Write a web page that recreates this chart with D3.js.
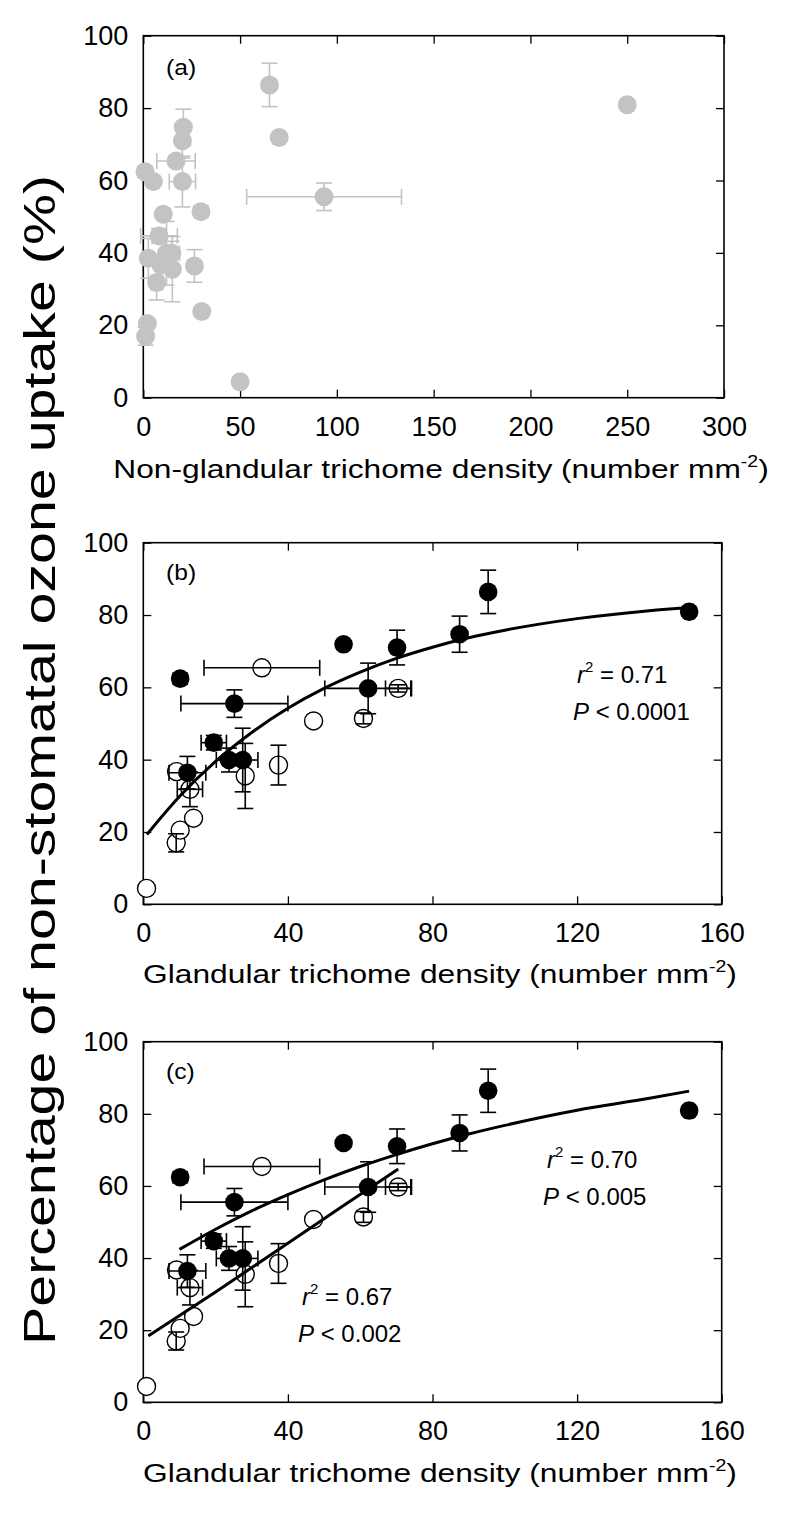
<!DOCTYPE html>
<html>
<head>
<meta charset="utf-8">
<script src="https://cdn.jsdelivr.net/npm/d3@7"></script>
<style>
  body { margin: 0; background: #fff; }
  svg { display: block; font-family: "Liberation Sans", Arial, sans-serif; }
</style>
</head>
<body>
<svg width="800" height="1518"></svg>
<script>
'use strict'

// tick values
const yTicks = [0, 20, 40, 60, 80, 100];
const xTicksA = [0, 50, 100, 150, 200, 250, 300];
const xTicksBC = [0, 40, 80, 120, 160];

// filled circles (glandular density, uptake %)
const filledGlandX = [10.2, 25.2, 19.5, 23.7, 27.5, 12.2, 55.4, 70.2, 62.2, 87.5, 95.4, 151];
const filledY      = [62.4, 55.5, 44.7, 39.9, 39.9, 36.4, 71.9, 71.0, 59.7, 74.7, 86.4, 80.9];
const filledGlandXErr = [1.0, 14.8, 3.5, 3.5, 4.2, 5.1, 0, 0, 12, 0, 0, 1.2];
const filledYErr      = [1.5, 3.8, 2.0, 3.3, 8.8, 4.5, 0, 4.8, 7.0, 5.0, 6.0, 1.2];
// same samples against non-glandular density
const filledNonGlandX    = [0.9, 93.4, 8.1, 14.7, 12.0, 26.4, 70.2, 20.2, 20.2, 20.7, 65.2, 250];
const filledNonGlandXErr = [0, 40, 9.5, 4.0, 0, 0, 0, 0, 6.8, 0, 0, 0];

// open circles
const openGlandX = [0.9, 9.1, 10.2, 13.9, 12.9, 9.2, 28.2, 37.4, 47.1, 60.9, 70.5, 32.8];
const openY      = [4.4, 17.0, 20.5, 23.8, 31.8, 36.7, 35.5, 38.5, 50.7, 51.4, 59.7, 65.4];
const openGlandXErr = [0, 0, 0, 0, 3.5, 0, 0, 0, 0, 0, 3.5, 16];
const openYErr      = [0, 2.5, 0, 0, 4.8, 0, 9.0, 5.5, 0, 1.5, 1.0, 0];
const openNonGlandX    = [50, 1.2, 2.1, 30.2, 6.9, 9.0, 15.0, 2.6, 10.3, 29.8, 5.2, 16.9];
const openNonGlandXErr = [0, 0, 0, 0, 3.0, 0, 0, 0, 0, 0, 0, 9.9];

// fitted curves
const curveBX = [1, 10, 20, 30, 40, 50, 60, 70, 80, 90, 100, 120, 140, 151];
const curveBY = [19.3, 29.8, 39.5, 47.5, 54.2, 59.7, 64.2, 68.0, 71.1, 73.7, 75.8, 79.0, 81.2, 82.1];
const curveC1X = [10, 20, 30, 40, 50, 60, 70, 80, 90, 100, 120, 140, 151];
const curveC1Y = [42.4, 48.0, 53.1, 57.6, 61.7, 65.4, 68.7, 71.7, 74.4, 76.8, 81.0, 84.3, 86.3];
const curveC2X = [1.4, 20, 40.6, 55, 70.5];
const curveC2Y = [18.4, 30.6, 44.5, 54.3, 64.7];

const svg = d3.select('svg');
const LEFT = 143.3;
const TICK = 8;
const CAP = 8;
const GREY = '#c3c3c3';

const filled = filledY.map((v, i) => ({
  gx: filledGlandX[i], ngx: filledNonGlandX[i], y: v,
  gex: filledGlandXErr[i], ngex: filledNonGlandXErr[i], ey: filledYErr[i]
}));
const open = openY.map((v, i) => ({
  gx: openGlandX[i], ngx: openNonGlandX[i], y: v,
  gex: openGlandXErr[i], ngex: openNonGlandXErr[i], ey: openYErr[i]
}));

function frame(x, y, xTicks) {
  const g = svg.append('g');
  const [x0, x1] = x.range();
  const [y0, y1] = y.range();
  const fmt = d3.format('d');

  g.append('g').attr('transform', `translate(0,${y0})`)
    .call(d3.axisBottom(x).tickValues(xTicks).tickSizeInner(-TICK).tickSizeOuter(0).tickPadding(19).tickFormat(fmt));
  g.append('g').attr('transform', `translate(0,${y1})`)
    .call(d3.axisTop(x).tickValues(xTicks).tickSizeInner(-TICK).tickSizeOuter(0).tickFormat(''));
  g.append('g').attr('transform', `translate(${x0},0)`)
    .call(d3.axisLeft(y).tickValues(yTicks).tickSizeInner(-TICK).tickSizeOuter(0).tickPadding(15).tickFormat(fmt));
  g.append('g').attr('transform', `translate(${x1},0)`)
    .call(d3.axisRight(y).tickValues(yTicks).tickSizeInner(-TICK).tickSizeOuter(0).tickFormat(''));

  g.selectAll('.domain').remove();
  g.selectAll('.tick line').attr('stroke', '#000').attr('stroke-width', 1.3);
  g.selectAll('.tick text').attr('font-size', 27).attr('fill', '#000')
    .attr('font-family', '"Liberation Sans", Arial, sans-serif');

  g.append('rect')
    .attr('x', x0).attr('y', y1).attr('width', x1 - x0).attr('height', y0 - y1)
    .attr('fill', 'none').attr('stroke', '#000').attr('stroke-width', 1.6);
  return g;
}

function errorBars(g, pts, x, y, xKey, exKey, color) {
  const eg = g.append('g').attr('stroke', color).attr('stroke-width', 1.6).attr('fill', 'none');
  pts.forEach(p => {
    const cx = x(p[xKey]), cy = y(p.y);
    if (p.ey > 0) {
      const ya = y(p.y + p.ey), yb = y(p.y - p.ey);
      eg.append('line').attr('x1', cx).attr('x2', cx).attr('y1', ya).attr('y2', yb);
      eg.append('line').attr('x1', cx - CAP).attr('x2', cx + CAP).attr('y1', ya).attr('y2', ya);
      eg.append('line').attr('x1', cx - CAP).attr('x2', cx + CAP).attr('y1', yb).attr('y2', yb);
    }
    if (p[exKey] > 0) {
      const xa = x(p[xKey] - p[exKey]), xb = x(p[xKey] + p[exKey]);
      eg.append('line').attr('x1', xa).attr('x2', xb).attr('y1', cy).attr('y2', cy);
      eg.append('line').attr('x1', xa).attr('x2', xa).attr('y1', cy - CAP).attr('y2', cy + CAP);
      eg.append('line').attr('x1', xb).attr('x2', xb).attr('y1', cy - CAP).attr('y2', cy + CAP);
    }
  });
}

function xTitle(text, cx, baseline, sx) {
  const t = svg.append('text')
    .attr('transform', `translate(${cx},${baseline}) scale(${sx},1)`)
    .attr('text-anchor', 'middle').attr('font-size', 26).attr('fill', '#000');
  t.append('tspan').text(text + ' (number mm');
  t.append('tspan').attr('font-size', 16).attr('dy', -11).text('-2');
  t.append('tspan').attr('dy', 11).text(')');
}

function panelLabel(label, x, baseline) {
  svg.append('text')
    .attr('transform', `translate(${x},${baseline}) scale(1.12,1)`)
    .attr('font-size', 22).attr('fill', '#000').text(label);
}

function stats(x, baseline, r2, p) {
  const t = svg.append('text')
    .attr('transform', `translate(${x},${baseline})`)
    .attr('font-size', 24).attr('fill', '#000');
  t.append('tspan').attr('font-style', 'italic').text('r');
  t.append('tspan').attr('font-size', 15).attr('dy', -11).text('2');
  t.append('tspan').attr('dy', 11).text(' = ' + r2);
  const t2 = svg.append('text')
    .attr('transform', `translate(${x - 4},${baseline + 37})`)
    .attr('font-size', 24).attr('fill', '#000');
  t2.append('tspan').attr('font-style', 'italic').text('P');
  t2.append('tspan').text(' < ' + p);
}

function curve(g, xs, ys, x, y) {
  const pts = xs.map((v, i) => [v, ys[i]]);
  g.append('path').datum(pts)
    .attr('fill', 'none').attr('stroke', '#000').attr('stroke-width', 3)
    .attr('d', d3.line().x(d => x(d[0])).y(d => y(d[1])).curve(d3.curveMonotoneX));
}

function dots(g, pts, x, y, xKey, fill, stroke, r) {
  g.append('g').selectAll('circle').data(pts).join('circle')
    .attr('cx', d => x(d[xKey])).attr('cy', d => y(d.y)).attr('r', r)
    .attr('fill', fill).attr('stroke', stroke).attr('stroke-width', stroke === 'none' ? 0 : 1.4);
}

// ---- panel (a)
{
  const x = d3.scaleLinear().domain([0, 300]).range([LEFT, 724]);
  const y = d3.scaleLinear().domain([0, 100]).range([397.7, 35.7]);
  const g = frame(x, y, xTicksA);
  const all = open.concat(filled);
  errorBars(g, all, x, y, 'ngx', 'ngex', GREY);
  dots(g, all, x, y, 'ngx', GREY, 'none', 9.5);
  panelLabel('(a)', 166, 75);
  xTitle('Non-glandular trichome density', 441, 478, 1.22);
}

// ---- panel (b)
{
  const x = d3.scaleLinear().domain([0, 160]).range([LEFT, 721.7]);
  const y = d3.scaleLinear().domain([0, 100]).range([904.3, 542.7]);
  const g = frame(x, y, xTicksBC);
  dots(g, open, x, y, 'gx', '#fff', '#000', 9);
  errorBars(g, open.concat(filled), x, y, 'gx', 'gex', '#000');
  curve(g, curveBX, curveBY, x, y);
  dots(g, filled, x, y, 'gx', '#000', 'none', 9.3);
  panelLabel('(b)', 166, 580);
  stats(577, 683, '0.71', '0.0001');
  xTitle('Glandular trichome density', 440, 983, 1.22);
}

// ---- panel (c)
{
  const x = d3.scaleLinear().domain([0, 160]).range([LEFT, 721.7]);
  const y = d3.scaleLinear().domain([0, 100]).range([1402.3, 1041.7]);
  const g = frame(x, y, xTicksBC);
  dots(g, open, x, y, 'gx', '#fff', '#000', 9);
  errorBars(g, open.concat(filled), x, y, 'gx', 'gex', '#000');
  curve(g, curveC1X, curveC1Y, x, y);
  curve(g, curveC2X, curveC2Y, x, y);
  dots(g, filled, x, y, 'gx', '#000', 'none', 9.3);
  panelLabel('(c)', 166, 1079);
  stats(547, 1168, '0.70', '0.005');
  stats(302, 1305, '0.67', '0.002');
  xTitle('Glandular trichome density', 440, 1482, 1.22);
}

// shared y title
svg.append('text')
  .attr('transform', 'translate(55,760) rotate(-90)')
  .attr('text-anchor', 'middle').attr('font-size', 44).attr('fill', '#000')
  .attr('textLength', 1170).attr('lengthAdjust', 'spacingAndGlyphs')
  .text('Percentage of non-stomatal ozone uptake (%)');
</script>
</body>
</html>
